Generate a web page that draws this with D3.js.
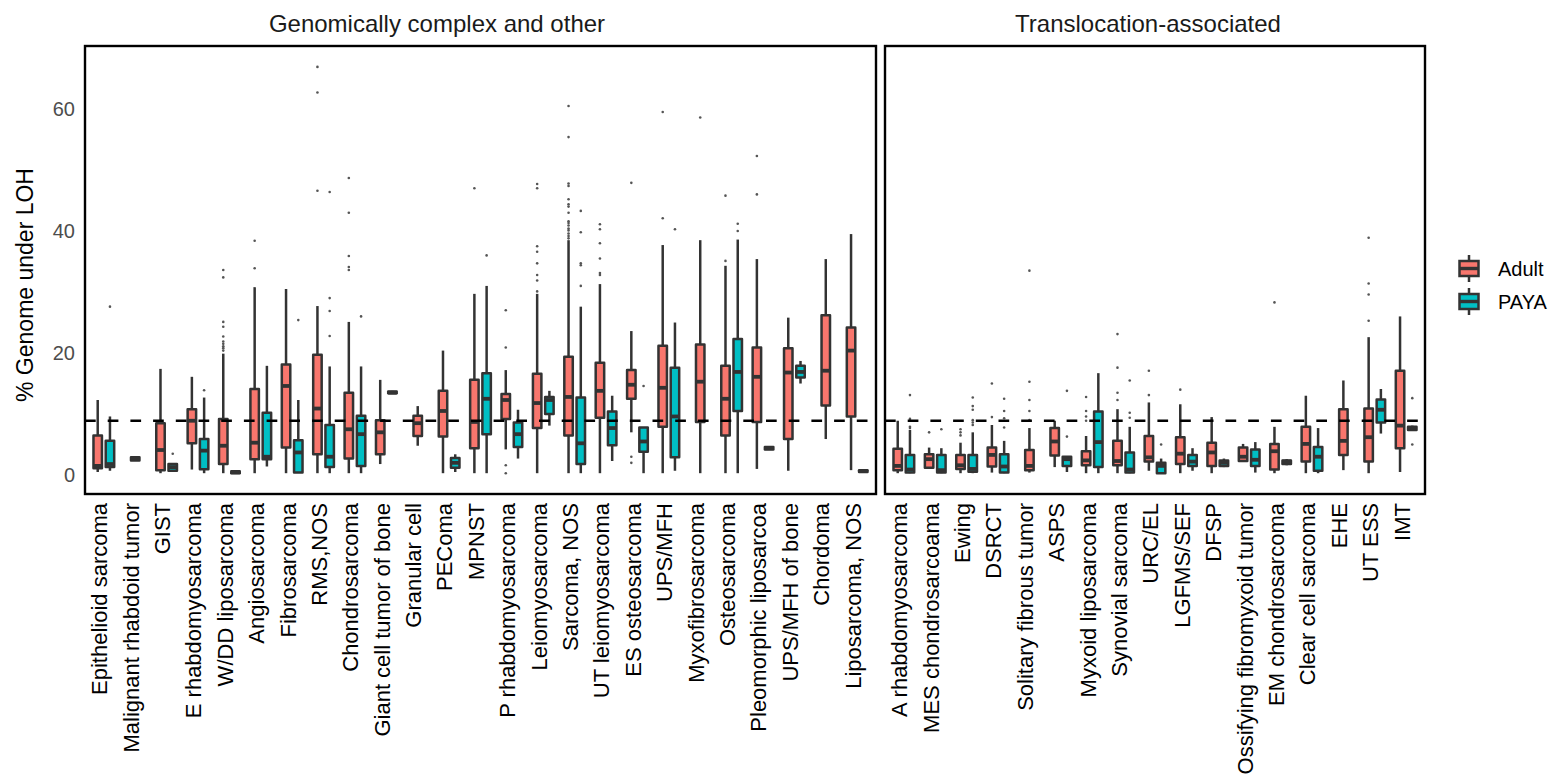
<!DOCTYPE html>
<html>
<head>
<meta charset="utf-8">
<script src="https://cdn.jsdelivr.net/npm/d3@7"></script>
<style>
  body { margin: 0; background: #fff; }
  text { font-family: "Liberation Sans", Arial, Helvetica, sans-serif; }
</style>
</head>
<body>
<div id="dataviz"></div>
<script>
// categories of the two facets
var complexCats = ["Epithelioid sarcoma", "Malignant rhabdoid tumor", "GIST", "E rhabdomyosarcoma",
    "W/DD liposarcoma", "Angiosarcoma", "Fibrosarcoma", "RMS,NOS", "Chondrosarcoma",
    "Giant cell tumor of bone", "Granular cell", "PEComa", "MPNST", "P rhabdomyosarcoma",
    "Leiomyosarcoma", "Sarcoma, NOS", "UT leiomyosarcoma", "ES osteosarcoma", "UPS/MFH",
    "Myxofibrosarcoma", "Osteosarcoma", "Pleomorphic liposarcoa", "UPS/MFH of bone",
    "Chordoma", "Liposarcoma, NOS"];
var translocationCats = ["A rhabdomyosarcoma", "MES chondrosarcoama", "Ewing", "DSRCT",
    "Solitary fibrous tumor", "ASPS", "Myxoid liposarcoma", "Synovial sarcoma", "URC/EL",
    "LGFMS/SEF", "DFSP", "Ossifying fibromyxoid tumor", "EM chondrosarcoma",
    "Clear cell sarcoma", "EHE", "UT ESS", "IMT"];
var facetTitles = ["Genomically complex and other", "Translocation-associated"];
var groups = ["Adult", "PAYA"];
var groupColors = ["#F8766D", "#00BFC4"];
var yTicks = [0, 20, 40, 60];
var lohCutoff = 8.9;

// box stats: [category, lower whisker, q1, median, q3, upper whisker]
var adultBoxes = [
    ["Epithelioid sarcoma", 0.5, 1.1, 1.5, 6.5, 12.3],
    ["GIST", 0.3, 0.8, 4.1, 8.5, 17.4],
    ["E rhabdomyosarcoma", 0.9, 5.2, 8.9, 10.8, 16.1],
    ["W/DD liposarcoma", 0.3, 1.8, 4.8, 9.2, 19.9],
    ["Angiosarcoma", 0.3, 2.6, 5.3, 14.1, 30.8],
    ["Fibrosarcoma", 0.3, 4.5, 14.6, 18.1, 30.5],
    ["RMS,NOS", 0.3, 3.4, 10.9, 19.7, 27.7],
    ["Chondrosarcoma", 0.3, 2.7, 7.5, 13.5, 25.1],
    ["Giant cell tumor of bone", 1.8, 3.4, 7.0, 9.0, 15.6],
    ["Granular cell", 4.8, 6.4, 8.5, 9.7, 11.3],
    ["PEComa", 0.3, 6.3, 10.5, 13.8, 20.4],
    ["MPNST", 0.3, 4.4, 8.7, 15.6, 29.7],
    ["P rhabdomyosarcoma", 4.2, 9.2, 12.3, 13.3, 17.2],
    ["Leiomyosarcoma", 0.3, 7.7, 11.8, 16.6, 29.7],
    ["Sarcoma, NOS", 0.3, 6.5, 12.8, 19.4, 38.5],
    ["UT leiomyosarcoma", 0.3, 9.4, 13.8, 18.4, 31.3],
    ["ES osteosarcoma", 7.0, 12.5, 14.8, 17.2, 23.6],
    ["UPS/MFH", 0.3, 7.9, 14.3, 21.2, 37.7],
    ["Myxofibrosarcoma", 0.3, 8.7, 15.3, 21.4, 38.5],
    ["Osteosarcoma", 0.3, 6.5, 12.5, 17.9, 34.3],
    ["Pleomorphic liposarcoa", 1.0, 8.7, 16.1, 20.9, 35.4],
    ["UPS/MFH of bone", 0.7, 5.9, 16.8, 20.8, 25.8],
    ["Chordoma", 5.9, 11.4, 17.1, 26.2, 35.4],
    ["Liposarcoma, NOS", 0.8, 9.6, 20.4, 24.2, 39.5],
    ["A rhabdomyosarcoma", 0.3, 0.8, 1.5, 4.3, 8.9],
    ["MES chondrosarcoama", 1.0, 1.2, 2.6, 3.4, 4.5],
    ["Ewing", 0.3, 1.0, 1.6, 3.3, 5.3],
    ["DSRCT", 0.4, 1.4, 3.3, 4.5, 8.2],
    ["Solitary fibrous tumor", 0.4, 0.8, 1.5, 4.1, 7.7],
    ["ASPS", 1.3, 3.2, 5.5, 7.7, 8.9],
    ["Myxoid liposarcoma", 0.3, 1.6, 2.4, 3.9, 6.4],
    ["Synovial sarcoma", 0.3, 1.6, 2.3, 5.6, 10.8],
    ["URC/EL", 0.7, 2.2, 2.9, 6.4, 11.9],
    ["LGFMS/SEF", 0.3, 1.8, 3.5, 6.2, 11.6],
    ["DFSP", 0.3, 1.5, 3.7, 5.3, 9.5],
    ["Ossifying fibromyxoid tumor", 2.3, 2.3, 3.0, 4.5, 5.1],
    ["EM chondrosarcoma", 0.3, 0.9, 3.9, 5.1, 7.9],
    ["Clear cell sarcoma", 0.3, 2.2, 5.1, 7.9, 13.0],
    ["EHE", 0.8, 3.3, 5.6, 10.8, 15.5],
    ["UT ESS", 0.3, 2.2, 6.2, 10.9, 22.6],
    ["IMT", 0.5, 4.4, 8.1, 17.1, 26.0]
];
var payaBoxes = [
    ["Epithelioid sarcoma", 0.7, 1.3, 1.8, 5.6, 9.6],
    ["Malignant rhabdoid tumor", 2.3, 2.4, 2.7, 2.9, 3.0],
    ["GIST", 0.5, 0.7, 1.3, 1.8, 1.9],
    ["E rhabdomyosarcoma", 0.3, 0.95, 4.0, 5.9, 12.7],
    ["W/DD liposarcoma", 0.2, 0.3, 0.45, 0.6, 0.7],
    ["Angiosarcoma", 1.4, 2.6, 3.0, 10.2, 17.9],
    ["Fibrosarcoma", 0.4, 0.4, 3.7, 5.7, 12.3],
    ["RMS,NOS", 0.3, 1.3, 3.0, 8.2, 17.8],
    ["Chondrosarcoma", 0.3, 1.5, 6.7, 9.7, 17.8],
    ["Giant cell tumor of bone", 13.3, 13.4, 13.5, 13.7, 13.8],
    ["PEComa", 0.5, 1.2, 2.0, 2.8, 3.4],
    ["MPNST", 0.3, 6.7, 12.5, 16.7, 31.0],
    ["P rhabdomyosarcoma", 2.7, 4.6, 6.7, 8.6, 10.7],
    ["Leiomyosarcoma", 8.1, 10.0, 12.3, 12.8, 13.8],
    ["Sarcoma, NOS", 0.3, 1.8, 5.2, 12.7, 27.6],
    ["UT leiomyosarcoma", 2.3, 4.9, 7.7, 10.4, 13.0],
    ["ES osteosarcoma", 0.3, 3.8, 5.5, 7.8, 7.8],
    ["UPS/MFH", 0.7, 2.9, 9.6, 17.6, 25.0],
    ["Osteosarcoma", 0.3, 10.5, 16.9, 22.3, 38.6],
    ["Pleomorphic liposarcoa", 4.1, 4.2, 4.4, 4.6, 4.7],
    ["UPS/MFH of bone", 15.0, 16.0, 16.9, 17.9, 18.7],
    ["Liposarcoma, NOS", 0.4, 0.5, 0.65, 0.8, 0.9],
    ["A rhabdomyosarcoma", 0.3, 0.4, 0.9, 3.3, 7.4],
    ["MES chondrosarcoama", 0.3, 0.4, 0.8, 3.3, 4.4],
    ["Ewing", 0.3, 0.55, 1.0, 3.3, 7.0],
    ["DSRCT", 0.3, 0.4, 1.4, 3.4, 5.6],
    ["ASPS", 0.5, 1.5, 2.6, 3.0, 3.0],
    ["Myxoid liposarcoma", 0.3, 1.3, 5.4, 10.4, 16.7],
    ["Synovial sarcoma", 0.3, 0.4, 0.9, 3.7, 7.9],
    ["URC/EL", 0.3, 0.3, 1.5, 2.0, 2.7],
    ["LGFMS/SEF", 0.7, 1.5, 2.2, 3.3, 4.4],
    ["DFSP", 1.3, 1.5, 2.0, 2.4, 2.7],
    ["Ossifying fibromyxoid tumor", 0.4, 1.5, 2.5, 4.2, 5.4],
    ["EM chondrosarcoma", 1.6, 1.8, 2.2, 2.4, 2.6],
    ["Clear cell sarcoma", 0.3, 0.7, 3.0, 4.6, 7.7],
    ["UT ESS", 6.8, 8.6, 10.7, 12.4, 14.1],
    ["IMT", 7.3, 7.4, 7.7, 7.9, 8.1]
];

// outliers: [category, values]
var adultOutliers = [
    ["W/DD liposarcoma", [33.6, 32.4, 25.1, 24.3, 22.7, 21.9, 21.5, 21.1, 20.8, 20.4]],
    ["Angiosarcoma", [38.4, 33.9]],
    ["RMS,NOS", [66.9, 62.7, 46.6]],
    ["Chondrosarcoma", [48.7, 43.0, 35.9, 34.1, 33.6]],
    ["MPNST", [47.0]],
    ["P rhabdomyosarcoma", [27.0, 20.9, 1.6, 0.3]],
    ["Leiomyosarcoma", [47.7, 47.0, 37.5, 36.6, 34.7, 32.8, 31.9, 30.1]],
    ["Sarcoma, NOS", [60.5, 55.4, 47.8, 47.4, 45.2, 44.4, 44.0, 43.0, 41.6, 41.3, 40.9, 40.4, 40.1, 39.6, 39.2, 38.8]],
    ["UT leiomyosarcoma", [41.1, 40.3, 38.0, 35.5, 33.1, 32.8]],
    ["ES osteosarcoma", [47.9, 3.0, 2.0]],
    ["UPS/MFH", [59.5, 42.1]],
    ["Myxofibrosarcoma", [58.6]],
    ["Osteosarcoma", [45.8, 35.1]],
    ["Pleomorphic liposarcoa", [52.3, 46.0]],
    ["MES chondrosarcoama", [7.0]],
    ["Ewing", [7.5, 7.0, 6.5]],
    ["DSRCT", [15.0, 9.5]],
    ["Solitary fibrous tumor", [33.5, 15.3, 12.3, 10.5, 9.0]],
    ["Myxoid liposarcoma", [12.8, 10.5, 9.6, 8.9]],
    ["Synovial sarcoma", [23.1, 17.6, 13.5, 12.3]],
    ["URC/EL", [17.1, 13.1]],
    ["LGFMS/SEF", [14.0]],
    ["EM chondrosarcoma", [28.3]],
    ["UT ESS", [38.9, 31.4, 29.6, 25.3]]
];
var payaOutliers = [
    ["Epithelioid sarcoma", [27.6]],
    ["GIST", [3.5]],
    ["E rhabdomyosarcoma", [13.9]],
    ["Fibrosarcoma", [25.4]],
    ["RMS,NOS", [46.4, 29.0, 26.9, 22.8]],
    ["Chondrosarcoma", [26.0]],
    ["MPNST", [36.0]],
    ["Sarcoma, NOS", [43.3, 39.8, 34.7, 34.4, 31.0]],
    ["ES osteosarcoma", [14.6]],
    ["UPS/MFH", [40.3]],
    ["Osteosarcoma", [41.2, 40.0]],
    ["A rhabdomyosarcoma", [13.1, 9.2, 7.9, 7.7]],
    ["MES chondrosarcoama", [7.5]],
    ["Ewing", [12.7, 11.3, 10.7, 9.0, 8.6, 8.2]],
    ["DSRCT", [12.5, 10.5, 9.3, 7.8]],
    ["ASPS", [13.8, 6.3]],
    ["Synovial sarcoma", [15.5, 10.2, 9.4]],
    ["URC/EL", [5.0]],
    ["IMT", [12.6, 5.0]]
];

/**
 * Initial setup
 */
var widthFull = 1549;
var heightFull = 782;
var panelTop = 46;
var panelBottom = 494;
var boxStroke = "#333333";

var svg = d3.select("#dataviz").append("svg")
    .attr("width", widthFull)
    .attr("height", heightFull)
    .attr("viewBox", `0 0 ${widthFull} ${heightFull}`)
    .style("background", "#fff");

var y = d3.scaleLinear().domain([-3.11, 70.33]).range([panelBottom, panelTop]);

var panels = [
    { cats: complexCats, x0: 85, x1: 876, title: facetTitles[0], titleX: 437 },
    { cats: translocationCats, x0: 885, x1: 1425, title: facetTitles[1], titleX: 1148 }
];

var boxSets = [adultBoxes, payaBoxes];
var outlierSets = [adultOutliers, payaOutliers];

panels.forEach(function(p, pi) {
    var x = d3.scalePoint().domain(p.cats).range([p.x0, p.x1]).padding(0.6);
    var step = x.step();
    var boxW = 0.27 * step;

    // which groups are present for each category (single boxes get centred)
    var present = {};
    boxSets.forEach(function(set, gi) {
        set.forEach(function(b) {
            if (p.cats.indexOf(b[0]) < 0) return;
            (present[b[0]] = present[b[0]] || []).push(gi);
        });
    });
    function cx(cat, gi) {
        if (present[cat].length == 1) return x(cat);
        return x(cat) + (gi == 0 ? -0.195 : 0.195) * step;
    }

    var g = svg.append("g").attr("class", "panel-" + pi);

    boxSets.forEach(function(set, gi) {
        var rows = set.filter(d => p.cats.indexOf(d[0]) >= 0);
        var bg = g.append("g").attr("class", groups[gi]);

        // whiskers
        bg.selectAll("line.whisker").data(rows).enter().append("line")
            .attr("class", "whisker")
            .attr("x1", d => cx(d[0], gi)).attr("x2", d => cx(d[0], gi))
            .attr("y1", d => y(d[1])).attr("y2", d => y(d[5]))
            .attr("stroke", boxStroke).attr("stroke-width", 2.5);

        // boxes
        bg.selectAll("rect").data(rows).enter().append("rect")
            .attr("x", d => cx(d[0], gi) - boxW / 2)
            .attr("width", boxW)
            .attr("y", d => y(d[4]))
            .attr("height", d => Math.max(0.5, y(d[2]) - y(d[4])))
            .attr("fill", groupColors[gi])
            .attr("stroke", boxStroke).attr("stroke-width", 2.5)
            .attr("stroke-linejoin", "round");

        // medians
        bg.selectAll("line.median").data(rows).enter().append("line")
            .attr("class", "median")
            .attr("x1", d => cx(d[0], gi) - boxW / 2).attr("x2", d => cx(d[0], gi) + boxW / 2)
            .attr("y1", d => y(d[3])).attr("y2", d => y(d[3]))
            .attr("stroke", boxStroke).attr("stroke-width", 3.8);

        // outliers
        var pts = [];
        outlierSets[gi].forEach(function(o) {
            if (p.cats.indexOf(o[0]) < 0) return;
            o[1].forEach(v => pts.push({ cat: o[0], v: v }));
        });
        bg.selectAll("circle").data(pts).enter().append("circle")
            .attr("cx", d => cx(d.cat, gi))
            .attr("cy", d => y(d.v))
            .attr("r", 1.3)
            .attr("fill", "#555");
    });

    // dashed LOH cutoff line on top of the boxes
    g.append("line")
        .attr("x1", p.x0).attr("x2", p.x1)
        .attr("y1", y(lohCutoff)).attr("y2", y(lohCutoff))
        .attr("stroke", "#000").attr("stroke-width", 2.6)
        .style("stroke-dasharray", "10.7, 12");

    // panel border
    g.append("rect")
        .attr("x", p.x0).attr("y", panelTop)
        .attr("width", p.x1 - p.x0).attr("height", panelBottom - panelTop)
        .attr("fill", "none").attr("stroke", "#000").attr("stroke-width", 2.4);

    // strip title
    svg.append("text")
        .attr("x", p.titleX).attr("y", 32)
        .attr("text-anchor", "middle")
        .style("font-size", "24px").style("fill", "#1a1a1a")
        .text(p.title);

    // x axis with rotated labels
    var xa = svg.append("g")
        .attr("class", "x-axis")
        .attr("transform", "translate(0," + panelBottom + ")")
        .call(d3.axisBottom(x).tickSize(0));
    xa.select(".domain").remove();
    xa.selectAll("text")
        .attr("transform", "rotate(-90)")
        .attr("x", -9).attr("y", 0).attr("dy", "0.13em")
        .style("text-anchor", "end")
        .style("font-size", "22px")
        .style("font-family", '"Liberation Sans", Arial, sans-serif')
        .style("fill", "#000");
});

// y axis (left panel only)
var ya = svg.append("g")
    .attr("class", "y-axis")
    .attr("transform", "translate(85,0)")
    .call(d3.axisLeft(y).tickValues(yTicks).tickSize(0).tickPadding(10));
ya.select(".domain").remove();
ya.selectAll("text")
    .style("font-size", "20px")
    .style("font-family", '"Liberation Sans", Arial, sans-serif')
    .style("fill", "#4d4d4d");

svg.append("text")
    .attr("transform", "translate(33,285) rotate(-90)")
    .attr("text-anchor", "middle")
    .style("font-size", "23px").style("fill", "#000")
    .text("% Genome under LOH");

// legend
var legend = svg.append("g").attr("class", "legend");
groups.forEach(function(name, i) {
    var ly = 255 + i * 33;
    var kx = 1469;
    legend.append("line")
        .attr("x1", kx).attr("x2", kx).attr("y1", ly).attr("y2", ly + 27)
        .attr("stroke", boxStroke).attr("stroke-width", 2.5);
    legend.append("rect")
        .attr("x", kx - 9.5).attr("y", ly + 6).attr("width", 19).attr("height", 15)
        .attr("fill", groupColors[i]).attr("stroke", boxStroke).attr("stroke-width", 2.5);
    legend.append("line")
        .attr("x1", kx - 9.5).attr("x2", kx + 9.5).attr("y1", ly + 13.5).attr("y2", ly + 13.5)
        .attr("stroke", boxStroke).attr("stroke-width", 3.4);
    legend.append("text")
        .attr("x", 1498).attr("y", ly + 14).attr("dy", "0.36em")
        .style("font-size", "20px").style("fill", "#000")
        .text(name);
});
</script>
</body>
</html>
